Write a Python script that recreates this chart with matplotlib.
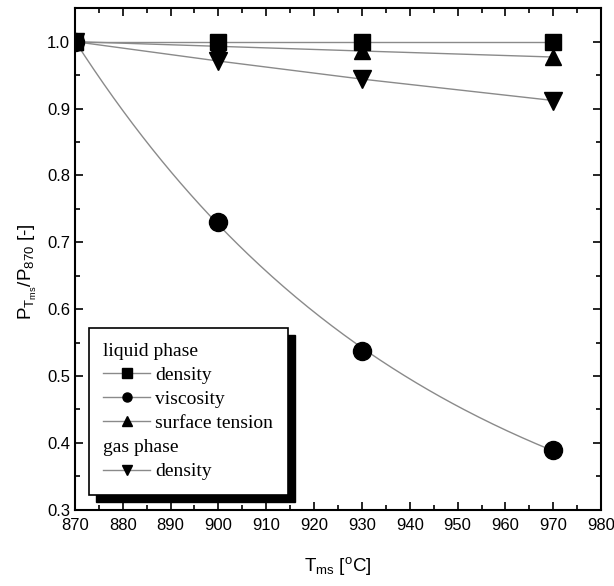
import numpy as np
import matplotlib
matplotlib.use("Agg")
import matplotlib.pyplot as plt
from matplotlib.lines import Line2D
from matplotlib.patches import Rectangle
from matplotlib.transforms import Affine2D

plt.rcParams['font.family'] = ['Liberation Sans', 'DejaVu Sans']
plt.rcParams['mathtext.fontset'] = 'custom'
plt.rcParams['mathtext.rm'] = 'Liberation Sans'
plt.rcParams['mathtext.it'] = 'Liberation Sans'

# data
temps = [870, 900, 930, 970]
liq_density = [1.0, 1.0, 1.0, 1.0]
liq_viscosity = [1.0, 0.731, 0.537, 0.390]
liq_surface_tension = [1.0, 0.993, 0.986, 0.977]
gas_density = [1.0, 0.971, 0.944, 0.912]

x_ticks = [870, 880, 890, 900, 910, 920, 930, 940, 950, 960, 970, 980]
y_ticks = [0.3, 0.4, 0.5, 0.6, 0.7, 0.8, 0.9, 1.0]

line_col = '#8a8a8a'

fig = plt.figure(figsize=(6.14, 5.86), dpi=100)
ax = fig.add_axes([0.122, 0.130, 0.857, 0.856])

# exponential decay fit (y0 + A*exp(-k*dT)) for viscosity
t = np.array(temps, dtype=float) - temps[0]
v = np.array(liq_viscosity)
best = None
for k in np.linspace(0.001, 0.05, 4901):
    M = np.column_stack([np.ones_like(t), np.exp(-k * t)])
    c, *_ = np.linalg.lstsq(M, v, rcond=None)
    e = np.sum((M @ c - v) ** 2)
    if best is None or e < best[0]:
        best = (e, k, c)
_, k_best, c_best = best
tt = np.linspace(870, 970, 200)
fit = c_best[0] + c_best[1] * np.exp(-k_best * (tt - temps[0]))

ax.plot(temps, liq_density, color=line_col, lw=1.0, zorder=2)
ax.plot(tt, fit, color=line_col, lw=1.0, zorder=2)
ax.plot(temps, liq_surface_tension, color=line_col, lw=1.0, zorder=2)
ax.plot(temps, gas_density, color=line_col, lw=1.0, zorder=2)

ax.plot(temps, gas_density, ls='none', marker='v', ms=13, color='black', zorder=3)
ax.plot(temps, liq_surface_tension, ls='none', marker='^', ms=12, color='black', zorder=3)
ax.plot(temps, liq_density, ls='none', marker='s', ms=11.5, color='black', zorder=3)
ax.plot(temps, liq_viscosity, ls='none', marker='o', ms=13, color='black', zorder=3)

ax.set_xlim(870, 980)
ax.set_ylim(0.3, 1.05)
ax.set_xticks(x_ticks)
ax.set_yticks(y_ticks)
ax.set_yticklabels(['%.1f' % y for y in y_ticks])
ax.set_xticks(np.arange(875, 980, 10), minor=True)
ax.set_yticks(np.arange(0.35, 1.05, 0.1), minor=True)
ax.tick_params(which='both', direction='in', top=True, right=True, labelsize=12, width=1.2)
ax.tick_params(axis='x', pad=6)
ax.tick_params(which='major', length=6)
ax.tick_params(which='minor', length=3.5)
for s in ax.spines.values():
    s.set_linewidth(1.5)

ax.set_xlabel(r'T$_{\mathrm{ms}}$ [$^{\mathrm{o}}$C]', fontsize=13.5, labelpad=16)
ax.set_ylabel(r'P$_{\mathrm{T_{ms}}}$/P$_{\mathrm{870}}$ [-]', fontsize=13.5)
ax.yaxis.set_label_coords(-0.068, 0.475)

blank = Line2D([], [], ls='none', marker=None)
def h(m):
    return Line2D([], [], color=line_col, lw=1.0, marker=m, mfc='black', mec='black', ms=6.5)

handles = [blank, h('s'), h('o'), h('^'), blank, h('v')]
labels = ['liquid phase', 'density', 'viscosity', 'surface tension', 'gas phase', 'density']
leg_fs = 14
hl, htp = 2.37, 0.3
leg = ax.legend(handles, labels, loc='upper left', bbox_to_anchor=(0.0266, 0.3625),
                frameon=True, fancybox=False, edgecolor='black', framealpha=1,
                prop={'family': 'Liberation Serif', 'size': leg_fs}, handlelength=hl,
                handletextpad=htp, labelspacing=0.33, borderpad=0.75, borderaxespad=0)
leg.get_frame().set_linewidth(1.2)
leg.set_zorder(6)

# move the heading rows to the left edge of the handles
dx = (hl + htp) * leg_fs * fig.dpi / 72.0
for txt, lab in zip(leg.get_texts(), labels):
    if lab.endswith('phase'):
        txt.set_transform(txt.get_transform() + Affine2D().translate(-dx, 0))

fig.canvas.draw()
bb = leg.get_frame().get_window_extent()
inv = ax.transAxes.inverted()
p0 = inv.transform((bb.x0 + 7, bb.y0 - 7))
p1 = inv.transform((bb.x1 + 7, bb.y1 - 7))
ax.add_patch(Rectangle(p0, p1[0] - p0[0], p1[1] - p0[1], transform=ax.transAxes,
                       facecolor='black', edgecolor='black', zorder=5, clip_on=False))

fig.savefig('out.png', dpi=100)
